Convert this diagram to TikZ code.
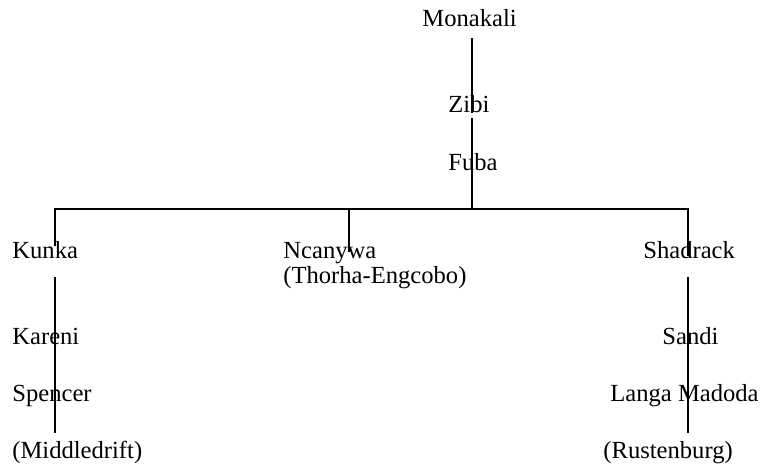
\documentclass[tikz,border=0pt]{standalone}
\usepackage{fontspec}
\setmainfont{Liberation Serif}
\begin{document}
\begin{tikzpicture}[x=0.5pt,y=0.5pt,yscale=-1,xscale=1]
\tikzset{person/.style={anchor=base west,inner sep=0pt,align=left,font=\fontsize{12.3}{12.5}\selectfont},
  kin/.style={line width=0.9pt}}
\useasboundingbox (0,0) rectangle (762,468);

% Names
\node[person] (monakali) at (422,26) {Monakali};
\node[person] (zibi) at (448,112) {Zibi};
\node[person] (fuba) at (448,170) {Fuba};
\node[person] (kunka) at (12,258) {Kunka};
\node[person] (ncanywa) at (283,283) {Ncanywa\\(Thorha-Engcobo)};
\node[person] (shadrack) at (643,258) {Shadrack};
\node[person] (kareni) at (12,344) {Kareni};
\node[person] (spencer) at (12,401) {Spencer};
\node[person] (middledrift) at (12,458) {(Middledrift)};
\node[person] (sandi) at (662,344) {Sandi};
\node[person] (langa) at (610,401) {Langa Madoda};
\node[person] (rustenburg) at (603,458) {(Rustenburg)};

% Line ends
\coordinate (m1) at (471.7,38);
\coordinate (m2) at (471.7,113);
\coordinate (z1) at (471.7,118);
\coordinate (bar) at (471.7,209);
\coordinate (barL) at (55.3,209);
\coordinate (barR) at (687.7,209);
\coordinate (barM) at (349.3,209);
\coordinate (k1) at (55.3,246);
\coordinate (n1) at (349.3,252);
\coordinate (s1) at (687.7,256);
\coordinate (k2) at (55.3,277);
\coordinate (k3) at (55.3,433);
\coordinate (s2) at (687.7,277);
\coordinate (s3) at (687.7,433);

% Lines
\draw[kin] (m1) -- (m2);
\draw[kin] (z1) -- (bar);
\draw[kin] (k1) -- (barL) -- (barR) -- (s1);
\draw[kin] (barM) -- (n1);
\draw[kin] (k2) -- (k3);
\draw[kin] (s2) -- (s3);

\end{tikzpicture}
\end{document}
